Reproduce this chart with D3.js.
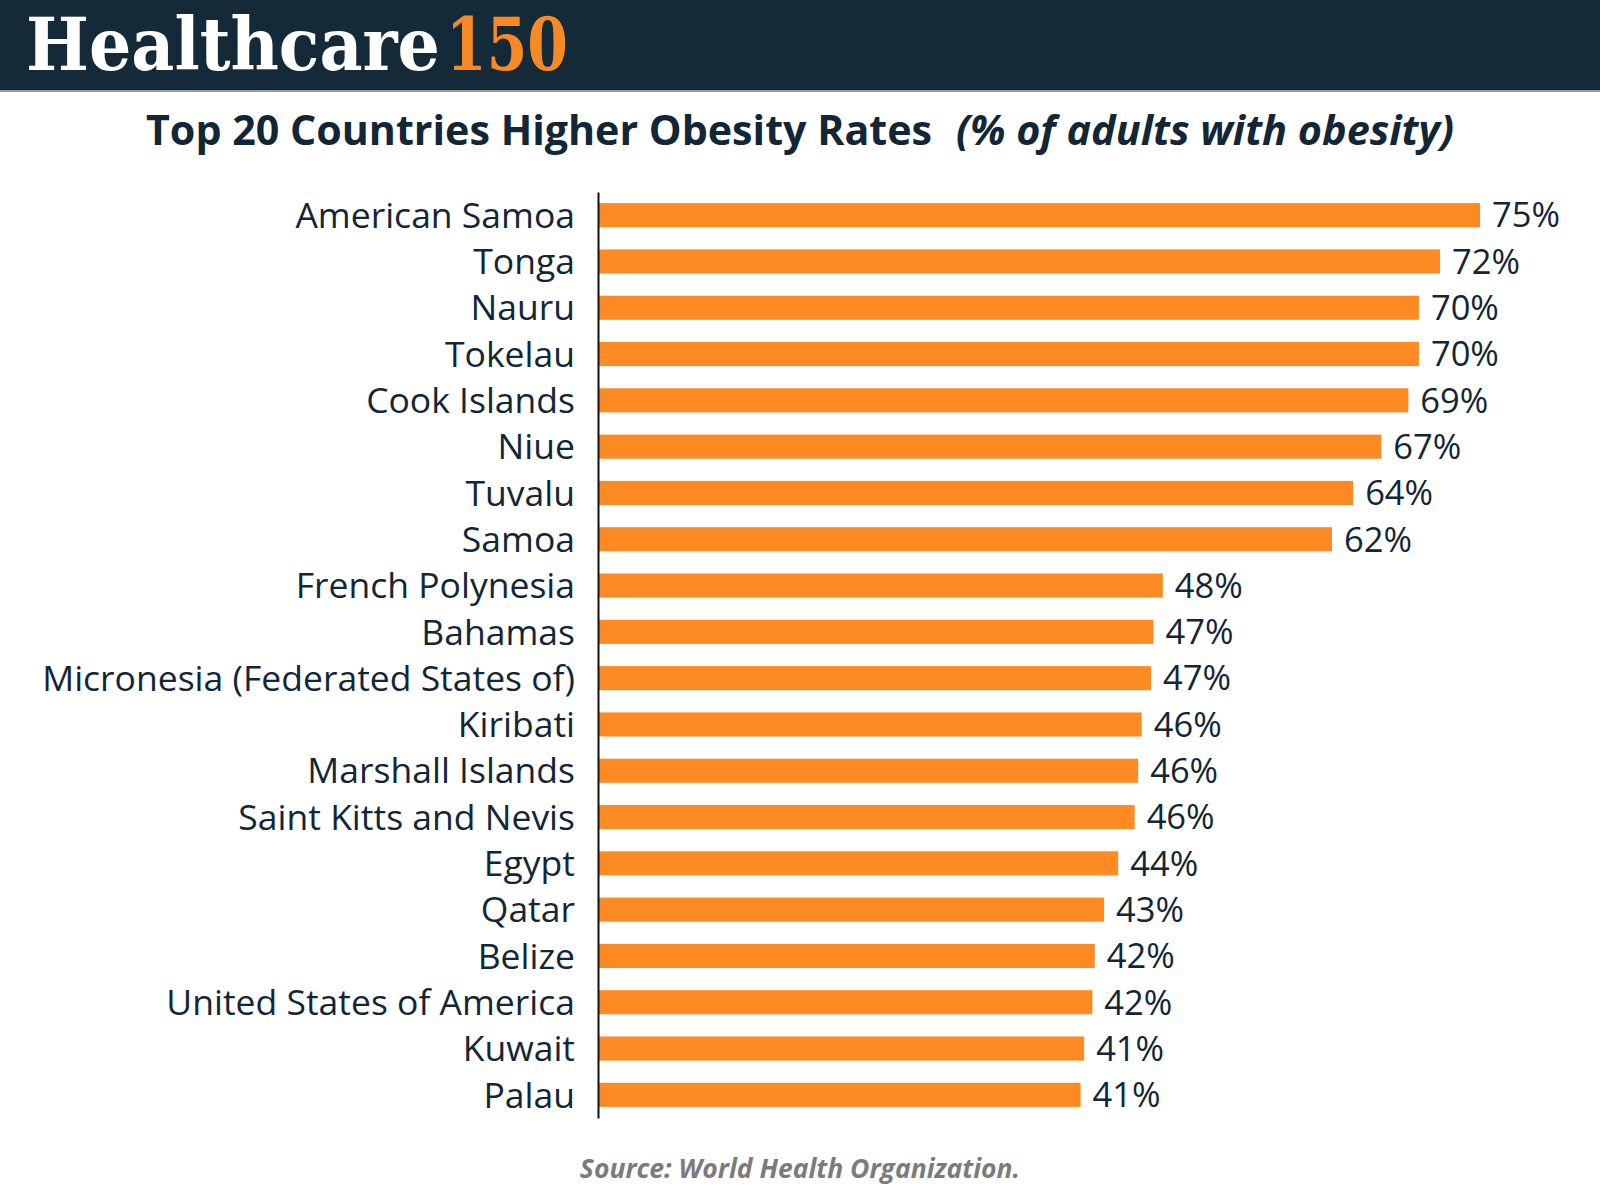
<!DOCTYPE html>
<html>
<head>
<meta charset="utf-8">
<script src="https://cdn.jsdelivr.net/npm/d3@7"></script>
<style>
  body { margin: 0; background: #fff; }
  svg { display: block; }
</style>
</head>
<body>
<svg id="chart" width="1600" height="1200"></svg>
<script>
// data
const countries = [
  "American Samoa", "Tonga", "Nauru", "Tokelau", "Cook Islands", "Niue",
  "Tuvalu", "Samoa", "French Polynesia", "Bahamas",
  "Micronesia (Federated States of)", "Kiribati", "Marshall Islands",
  "Saint Kitts and Nevis", "Egypt", "Qatar", "Belize",
  "United States of America", "Kuwait", "Palau"
];
const obesity = [75, 71.6, 69.8, 69.8, 68.9, 66.6, 64.2, 62.4, 48, 47.2,
                 47, 46.2, 45.9, 45.6, 44.2, 43, 42.2, 42, 41.3, 41];
const valueLabels = ["75%", "72%", "70%", "70%", "69%", "67%", "64%", "62%",
                     "48%", "47%", "47%", "46%", "46%", "46%", "44%", "43%",
                     "42%", "42%", "41%", "41%"];

const rows = countries.map((c, i) => ({ name: c, value: obesity[i], label: valueLabels[i] }));

const svg = d3.select("#chart");
const ink = "#132636";
const orange = "#fd8a22";

// header band + logo
svg.append("rect")
  .attr("x", 0).attr("y", 0).attr("width", 1600).attr("height", 90)
  .attr("fill", "#152a38");
svg.append("rect")
  .attr("x", 0).attr("y", 90).attr("width", 1600).attr("height", 2)
  .attr("fill", "#9a9a9a");

// squeeze a word horizontally to a given width (scale, so boxes stay honest)
function logoWord(str, left, width, color) {
  const g = svg.append("g");
  const t = g.append("text")
    .attr("x", 0).attr("y", 0)
    .style("font-family", "'DejaVu Serif', 'Liberation Serif', serif")
    .style("font-weight", "bold")
    .style("font-size", "73px")
    .attr("fill", color)
    .text(str);
  const natural = t.node().getComputedTextLength();
  g.attr("transform", `translate(${left},70) scale(${width / natural},1)`);
}
logoWord("Healthcare", 26, 414, "#ffffff");
logoWord("150", 446, 122, "#f68b25");

// title
svg.append("text")
  .attr("x", 146).attr("y", 145)
  .attr("textLength", 786).attr("lengthAdjust", "spacingAndGlyphs")
  .style("font-family", "'Open Sans', sans-serif")
  .style("font-weight", "bold")
  .style("font-size", "42px")
  .attr("fill", ink)
  .text("Top 20 Countries Higher Obesity Rates");
svg.append("text")
  .attr("x", 956).attr("y", 145)
  .attr("textLength", 498).attr("lengthAdjust", "spacingAndGlyphs")
  .style("font-family", "'Open Sans', sans-serif")
  .style("font-weight", "bold")
  .style("font-style", "italic")
  .style("font-size", "42px")
  .attr("fill", ink)
  .text("(% of adults with obesity)");

// scales
const x = d3.scaleLinear().domain([0, 75]).range([599, 1480]);
const y = d3.scaleBand()
  .domain(countries)
  .range([192, 1118])
  .paddingInner(0.48)
  .paddingOuter(0.24);

// bars
svg.append("g")
  .selectAll("rect")
  .data(rows)
  .join("rect")
  .attr("x", x(0))
  .attr("y", d => y(d.name))
  .attr("width", d => x(d.value) - x(0))
  .attr("height", y.bandwidth())
  .attr("fill", orange);

// value labels
svg.append("g")
  .selectAll("text")
  .data(rows)
  .join("text")
  .attr("x", d => x(d.value) + 12)
  .attr("y", d => y(d.name) + y.bandwidth() / 2)
  .attr("dy", "0.357em")
  .style("font-family", "'Open Sans', sans-serif")
  .style("font-size", "34.5px")
  .attr("fill", ink)
  .text(d => d.label);

// category axis
const axis = svg.append("g")
  .attr("transform", "translate(598,0)")
  .call(d3.axisLeft(y).tickSize(0).tickSizeOuter(0).tickPadding(23));
axis.select(".domain").attr("stroke", "#111").attr("stroke-width", 2);
axis.selectAll("text")
  .attr("dy", "0.357em")
  .style("font-family", "'Open Sans', sans-serif")
  .style("font-size", "35.5px")
  .attr("fill", ink);

// source note
svg.append("text")
  .attr("x", 800).attr("y", 1178)
  .attr("text-anchor", "middle")
  .style("font-family", "'Open Sans', sans-serif")
  .style("font-weight", "bold")
  .style("font-style", "italic")
  .style("font-size", "26.5px")
  .attr("fill", "#7b7b7b")
  .text("Source: World Health Organization.");
</script>
</body>
</html>
